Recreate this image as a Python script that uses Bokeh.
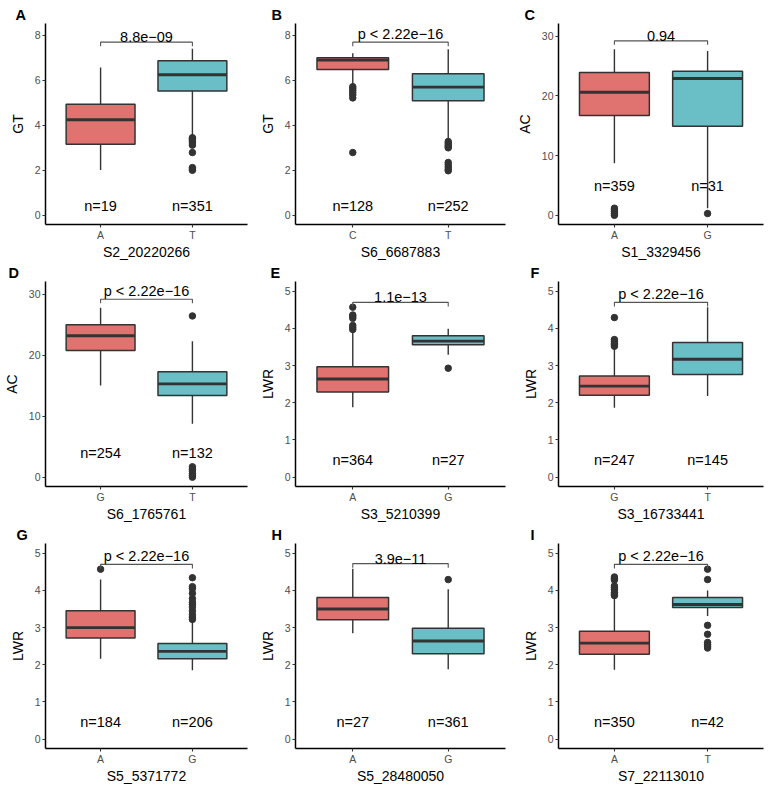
import numpy as np
from bokeh.plotting import figure
from bokeh.layouts import gridplot
from bokeh.models import Range1d, FixedTicker
from bokeh.embed import file_html
from bokeh.resources import INLINE
from bokeh.core.properties import value

FONT = "Liberation Sans"
FILLS = ["#E07270", "#69BFC5"]
DARK = "#333333"

panel_letters = ["A", "B", "C", "D", "E", "F", "G", "H", "I"]
snps = ["S2_20220266", "S6_6687883", "S1_3329456", "S6_1765761", "S3_5210399",
        "S3_16733441", "S5_5371772", "S5_28480050", "S7_22113010"]
traits = ["GT", "GT", "AC", "AC", "LWR", "LWR", "LWR", "LWR", "LWR"]
alleles = [["A", "T"], ["C", "T"], ["A", "G"], ["G", "T"], ["A", "G"],
           ["G", "T"], ["A", "G"], ["A", "G"], ["A", "T"]]
counts = [[19, 351], [128, 252], [359, 31], [254, 132], [364, 27],
          [247, 145], [184, 206], [27, 361], [350, 42]]
pvals = ["8.8e\u221209", "p < 2.22e\u221216", "0.94", "p < 2.22e\u221216", "1.1e\u221213",
         "p < 2.22e\u221216", "p < 2.22e\u221216", "3.9e\u221211", "p < 2.22e\u221216"]

q1 = [[3.16, 5.53], [6.48, 5.09], [16.7, 14.9], [20.8, 13.4], [2.29, 3.56],
      [2.20, 2.76], [2.72, 2.16], [3.21, 2.30], [2.28, 3.54]]
med = [[4.25, 6.25], [6.90, 5.70], [20.6, 22.9], [23.2, 15.3], [2.64, 3.66],
       [2.45, 3.17], [3.00, 2.36], [3.50, 2.64], [2.58, 3.62]]
q3 = [[4.94, 6.87], [7.01, 6.29], [23.9, 24.1], [25.0, 17.3], [2.97, 3.80],
      [2.72, 3.62], [3.45, 2.57], [3.81, 2.98], [2.90, 3.81]]
lo = [[2.01, 3.52], [5.78, 3.35], [8.7, 1.2], [15.05, 8.76], [1.88, 3.29],
      [1.87, 2.18], [2.16, 1.85], [2.85, 1.88], [1.87, 3.31]]
hi = [[6.57, 7.41], [7.21, 7.39], [27.8, 27.5], [27.8, 22.3], [3.92, 3.99],
      [3.47, 4.57], [4.29, 3.18], [4.58, 4.03], [3.81, 4.00]]
outliers = [
    [[], [3.45, 3.40, 3.35, 3.30, 3.22, 3.12, 2.79, 2.12, 2.06, 2.00]],
    [[5.72, 5.64, 5.55, 5.45, 5.35, 5.22, 2.79], [3.28, 3.20, 3.12, 3.05, 3.00, 2.35, 2.25, 2.15, 2.05, 1.98]],
    [[1.2, 0.9, 0.6, 0.3, 0.0], [0.3]],
    [[], [26.45, 1.7, 1.3, 1.0, 0.6, 0.3, 0.0]],
    [[3.97, 4.02, 4.08, 4.27, 4.32, 4.36, 4.57], [2.93]],
    [[3.52, 3.56, 3.60, 3.65, 3.70, 4.29], []],
    [[4.57], [3.22, 3.28, 3.35, 3.45, 3.55, 3.62, 3.68, 3.78, 3.92, 4.05, 4.10, 4.34]],
    [[], [4.29]],
    [[3.86, 3.90, 3.94, 4.02, 4.07, 4.12, 4.28, 4.32, 4.36], [4.57, 4.29, 3.06, 2.82, 2.60, 2.55, 2.50, 2.45]],
]
bracket_y = [7.70, 7.70, 29.2, 29.2, 4.70, 4.70, 4.70, 4.72, 4.70]
count_y = [0.43, 0.43, 4.85, 3.9, 0.47, 0.47, 0.47, 0.47, 0.47]

y_limits = {"GT": (-0.41, 8.53), "AC": (-1.53, 32.1), "LWR": (-0.25, 5.26)}
y_ticks = {"GT": [0, 2, 4, 6, 8], "AC": [0, 10, 20, 30], "LWR": [0, 1, 2, 3, 4, 5]}

W, H = 256, 262
left_border = [34, 36, 46, 41, 37, 40, 33, 36, 40]
right_border = [9, 7, 5]
top_border = [23, 19, 16]
bottom_border = [32, 34, 37]
letter_x = [4, 12, 12]


def make_panel(i):
    r, c = divmod(i, 3)
    trait = traits[i]
    p = figure(width=W, height=H, output_backend="svg", toolbar_location=None,
               x_range=Range1d(0.4, 2.6), y_range=Range1d(*y_limits[trait]),
               min_border_left=left_border[i], min_border_right=right_border[c],
               min_border_top=top_border[r], min_border_bottom=bottom_border[r],
               title=panel_letters[i])
    p.title.text_font = FONT
    p.title.text_font_size = "14.5px"
    p.title.text_font_style = "bold"
    p.title.text_color = "black"
    p.title.align = "left"
    p.title.offset = letter_x[c] - left_border[i]
    p.title.standoff = 1
    p.grid.visible = False
    p.outline_line_color = None
    p.background_fill_color = "white"

    xs = np.array([1.0, 2.0])
    w = 0.75
    p.segment(x0=xs, x1=xs, y0=q3[i], y1=hi[i], line_color=DARK, line_width=1.4)
    p.segment(x0=xs, x1=xs, y0=lo[i], y1=q1[i], line_color=DARK, line_width=1.4)
    p.vbar(x=xs, width=w, top=q3[i], bottom=q1[i], fill_color=FILLS,
           line_color=DARK, line_width=1.5)
    p.segment(x0=xs - w / 2, x1=xs + w / 2, y0=med[i], y1=med[i],
              line_color=DARK, line_width=2.8)
    ox = [1.0] * len(outliers[i][0]) + [2.0] * len(outliers[i][1])
    oy = outliers[i][0] + outliers[i][1]
    if oy:
        p.scatter(x=ox, y=oy, size=6.5, fill_color=DARK, line_color=DARK)

    span = y_limits[trait][1] - y_limits[trait][0]
    tip = 0.02 * span
    by = bracket_y[i]
    p.line(x=[1, 1, 2, 2], y=[by - tip, by, by, by - tip], line_color="#555555", line_width=1.1)
    p.text(x=[1.5], y=[by], text=[pvals[i]], text_align="center", text_baseline="bottom",
           y_offset=0, text_font=value(FONT), text_font_size="14.5px", text_color="black")
    p.text(x=xs, y=[count_y[i]] * 2, text=[f"n={n}" for n in counts[i]],
           text_align="center", text_baseline="middle",
           text_font=value(FONT), text_font_size="14.5px", text_color="black")

    p.xaxis.ticker = FixedTicker(ticks=[1, 2])
    p.xaxis.major_label_overrides = {1: alleles[i][0], 2: alleles[i][1]}
    p.yaxis.ticker = FixedTicker(ticks=y_ticks[trait])
    p.xaxis.axis_label = snps[i]
    p.yaxis.axis_label = trait
    for ax in (p.xaxis, p.yaxis):
        ax.axis_line_color = "black"
        ax.axis_line_width = 1.5
        ax.major_tick_line_color = DARK
        ax.major_tick_line_width = 1.1
        ax.major_tick_out = 3
        ax.major_tick_in = 0
        ax.minor_tick_line_color = None
        ax.major_label_text_font = FONT
        ax.major_label_text_font_size = "10.5px"
        ax.major_label_text_color = "#4D4D4D"
        ax.major_label_standoff = 2
        ax.axis_label_text_font = FONT
        ax.axis_label_text_font_size = "14px"
        ax.axis_label_text_font_style = "normal"
        ax.axis_label_text_color = "black"
    p.xaxis.major_label_standoff = 1
    p.xaxis.axis_label_standoff = 0
    p.yaxis.axis_label_standoff = 6
    return p


figs = [make_panel(i) for i in range(9)]
grid = gridplot(figs, ncols=3, toolbar_location=None)
open("out.html", "w").write(file_html(grid, INLINE))
